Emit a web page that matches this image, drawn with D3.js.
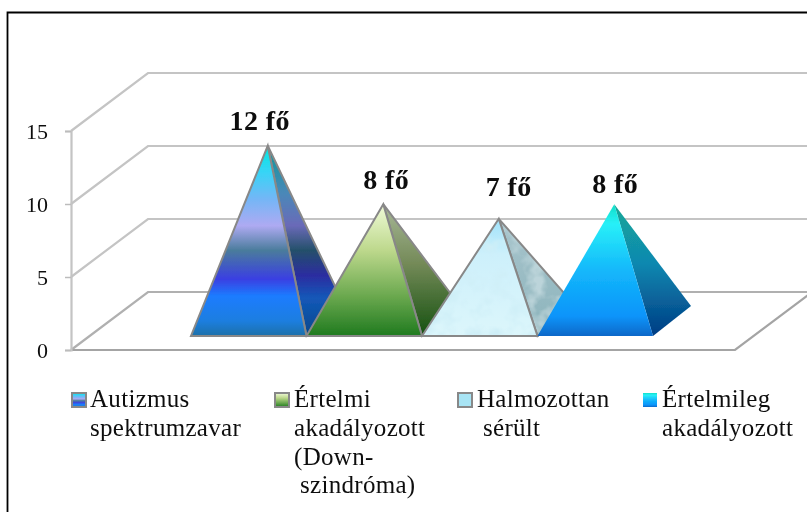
<!DOCTYPE html>
<html>
<head>
<meta charset="utf-8">
<script src="https://cdn.jsdelivr.net/npm/d3@7"></script>
<style>
  html, body { margin: 0; padding: 0; background: #fff; }
  svg { display: block; }
  text { font-family: "Liberation Serif", serif; fill: #111; }
</style>
</head>
<body>
<svg id="chart" width="807" height="512"></svg>
<script>
// Chart data
const categories = ["Autizmus spektrumzavar", "Értelmi akadályozott (Down-szindróma)", "Halmozottan sérült", "Értelmileg akadályozott"];
const values = [12, 8, 7, 8];
const valueLabels = ["12 fő", "8 fő", "7 fő", "8 fő"];
const yTicks = [0, 5, 10, 15];
const legendLines = [
    ["Autizmus", "spektrumzavar"],
    ["Értelmi", "akadályozott", "(Down-", " szindróma)"],
    ["Halmozottan", " sérült"],
    ["Értelmileg", "akadályozott"]
];

// Gradient stops for each pyramid, top to bottom
const frontStops = [
    [[0, "#00e8e0"], [0.14, "#38d4f6"], [0.28, "#74b6f6"], [0.42, "#aeaaf2"], [0.55, "#4a7c9c"], [0.70, "#3a3fe2"], [0.79, "#1c7cff"], [0.92, "#1a7ee0"], [1, "#1a70a8"]],
    [[0, "#f0fbd8"], [0.35, "#bdd88c"], [0.7, "#6aa84e"], [1, "#1f7a1f"]],
    [[0, "#a0e2fa"], [0.3, "#cdf0fb"], [1, "#dcf6fb"]],
    [[0, "#10e0c8"], [0.15, "#28f0f8"], [0.5, "#14b8fb"], [0.85, "#0a94fa"], [1, "#0a68c8"]]
];
const sideStops = [
    [[0, "#0a9a9a"], [0.25, "#4a88b8"], [0.42, "#6a6ab8"], [0.55, "#24506a"], [0.68, "#2c2ca0"], [0.8, "#1458b8"], [1, "#04488c"]],
    [[0, "#a8b898"], [0.45, "#748a58"], [1, "#14500f"]],
    [[0, "#a8c4cc"], [1, "#8cb4bc"]],
    [[0, "#14a898"], [0.45, "#1088b0"], [1, "#003c84"]]
];
const swatchStops = [frontStops[0], frontStops[1], [[0, "#a8e4f4"], [1, "#a8e4f4"]], frontStops[3]];

const svg = d3.select("#chart");
const defs = svg.append("defs");

// Scales: y is the front wall edge, x the front edge of each pyramid base
const y = d3.scaleLinear().domain([0, 15]).range([350, 131]);
const x = d3.scaleBand().domain(categories).range([191, 653]);

// 3D offsets
const wallDx = 77, wallDy = -58;
const depthDx = 38, depthDy = -30;
const baseFrontY = 336;
const floorRight = 735;
const frontX = 71;

// Manual label nudges, like the hand placed labels in the original
const labelNudgeX = [-8, 3, 10, 1];
const labelGap = [16, 15, 23, 11];

function addGradient(id, stops) {
    const grad = defs.append("linearGradient")
        .attr("id", id)
        .attr("x1", 0).attr("y1", 0)
        .attr("x2", 0).attr("y2", 1);
    stops.forEach(s => grad.append("stop").attr("offset", s[0]).attr("stop-color", s[1]));
}
frontStops.forEach((s, i) => addGradient("front" + i, s));
sideStops.forEach((s, i) => addGradient("side" + i, s));
swatchStops.forEach((s, i) => addGradient("swatch" + i, s));

// Slight softening, the reference is a scaled up screenshot
defs.append("filter").attr("id", "soft")
    .attr("x", "-5%").attr("y", "-5%").attr("width", "110%").attr("height", "110%")
    .append("feGaussianBlur").attr("stdDeviation", 0.55);

// Marble texture for the third pyramid
function addMarble(id, spotColor, seed) {
    const marble = defs.append("filter").attr("id", id)
        .attr("x", 0).attr("y", 0).attr("width", 1).attr("height", 1);
    marble.append("feTurbulence").attr("type", "fractalNoise")
        .attr("baseFrequency", 0.055).attr("numOctaves", 3).attr("seed", seed).attr("result", "noise");
    marble.append("feColorMatrix").attr("in", "noise").attr("type", "matrix")
        .attr("values", `0 0 0 0 ${spotColor[0]}  0 0 0 0 ${spotColor[1]}  0 0 0 0 ${spotColor[2]}  3 0 0 0 -1.35`)
        .attr("result", "spots");
    marble.append("feComposite").attr("in", "spots").attr("in2", "SourceAlpha").attr("operator", "in").attr("result", "clipped");
    const merge = marble.append("feMerge");
    merge.append("feMergeNode").attr("in", "SourceGraphic");
    merge.append("feMergeNode").attr("in", "clipped");
}
addMarble("marble", [0.62, 0.86, 0.93], 7);
addMarble("marbleSide", [0.5, 0.66, 0.7], 11);

const root = svg.append("g").attr("filter", "url(#soft)");

// Outer frame, open at the right and bottom
root.append("path")
    .attr("d", "M7.5,512V12.5H807")
    .attr("fill", "none")
    .attr("stroke", "#000")
    .attr("stroke-width", 1.8);

// Walls and gridlines
const grid = root.append("g");
yTicks.slice(1).forEach(t => {
    grid.append("path")
        .attr("d", `M${frontX},${y(t)}L${frontX + wallDx},${y(t) + wallDy}H807`)
        .attr("fill", "none")
        .attr("stroke", "#c4c4c4")
        .attr("stroke-width", 2.2);
});
grid.append("path")
    .attr("d", `M${frontX},${y(0)}L${frontX + wallDx},${y(0) + wallDy}H807`)
    .attr("fill", "none")
    .attr("stroke", "#b0b0b0")
    .attr("stroke-width", 2.2);
grid.append("path")
    .attr("d", `M${frontX},${y(0)}H${floorRight}L${floorRight + wallDx},${y(0) + wallDy}`)
    .attr("fill", "none")
    .attr("stroke", "#a4a4a4")
    .attr("stroke-width", 2.2);

// Y axis
const axis = root.append("g")
    .attr("transform", `translate(${frontX},0)`)
    .call(d3.axisLeft(y).tickValues(yTicks).tickSize(6).tickPadding(17));
axis.select(".domain").attr("stroke", "#c4c4c4").attr("stroke-width", 2.2);
axis.selectAll(".tick line").attr("stroke", "#bcbcbc").attr("stroke-width", 1.5);
axis.selectAll(".tick text")
    .attr("font-family", "Liberation Serif, serif")
    .attr("font-size", 22)
    .attr("fill", "#111");

// Pyramids, drawn left to right so each one covers the one before
const pyramids = root.selectAll(".pyramid")
    .data(categories)
    .enter().append("g")
    .attr("class", "pyramid");

function pyramidPoints(cat, i) {
    const x0 = x(cat), x1 = x0 + x.bandwidth();
    const apexX = (x0 + x1) / 2 + depthDx / 2;
    // value zero sits at the middle of the base, not on the front wall edge
    const baseShift = y(0) - (baseFrontY + depthDy / 2);
    const apexY = y(values[i]) - baseShift;
    return { x0, x1, apexX, apexY };
}

function sidePath(d, i) {
    const p = pyramidPoints(d, i);
    return `M${p.x1},${baseFrontY}L${p.x1 + depthDx},${baseFrontY + depthDy}L${p.apexX},${p.apexY}Z`;
}

function frontPath(d, i) {
    const p = pyramidPoints(d, i);
    return `M${p.x0},${baseFrontY}H${p.x1}L${p.apexX},${p.apexY}Z`;
}

pyramids.append("path")
    .attr("class", "side")
    .attr("d", sidePath)
    .attr("fill", (d, i) => `url(#side${i})`)
    .attr("filter", (d, i) => i === 2 ? "url(#marbleSide)" : null);

pyramids.append("path")
    .attr("class", "side-outline")
    .attr("d", sidePath)
    .attr("fill", "none")
    .attr("stroke", (d, i) => i === 3 ? "none" : "#888")
    .attr("stroke-width", 2);

pyramids.append("path")
    .attr("class", "front")
    .attr("d", frontPath)
    .attr("fill", (d, i) => `url(#front${i})`)
    .attr("filter", (d, i) => i === 2 ? "url(#marble)" : null);

pyramids.append("path")
    .attr("class", "front-outline")
    .attr("d", frontPath)
    .attr("fill", "none")
    .attr("stroke", (d, i) => i === 3 ? "none" : "#888")
    .attr("stroke-width", 2);

// Value labels
root.selectAll(".value-label")
    .data(categories)
    .enter().append("text")
    .attr("class", "value-label")
    .attr("x", (d, i) => pyramidPoints(d, i).apexX + labelNudgeX[i])
    .attr("y", (d, i) => pyramidPoints(d, i).apexY - labelGap[i])
    .attr("text-anchor", "middle")
    .attr("font-size", 28)
    .attr("font-weight", "bold")
    .attr("letter-spacing", 0.4)
    .attr("fill", "#000")
    .text((d, i) => valueLabels[i]);

// Legend
const legendX = [72, 275, 458, 643];
const legendTop = 393;
const legendLine = 28.8;
const legend = root.selectAll(".legend-item")
    .data(categories)
    .enter().append("g")
    .attr("class", "legend-item")
    .attr("transform", (d, i) => `translate(${legendX[i]},${legendTop})`);

legend.append("rect")
    .attr("x", 0).attr("y", 0)
    .attr("width", 14).attr("height", 14)
    .attr("fill", (d, i) => `url(#swatch${i})`)
    .attr("stroke", (d, i) => i === 3 ? "none" : "#888")
    .attr("stroke-width", 2);

const legendTextDx = [18, 19, 19, 19];
legend.each(function(d, i) {
    d3.select(this).selectAll("text")
        .data(legendLines[i])
        .enter().append("text")
        .attr("x", l => legendTextDx[i] + (l.startsWith(" ") ? 6 : 0))
        .attr("y", (l, j) => 14 + j * legendLine)
        .attr("font-size", 25)
        .attr("letter-spacing", 0.3)
        .text(l => l.trim());
});
</script>
</body>
</html>
